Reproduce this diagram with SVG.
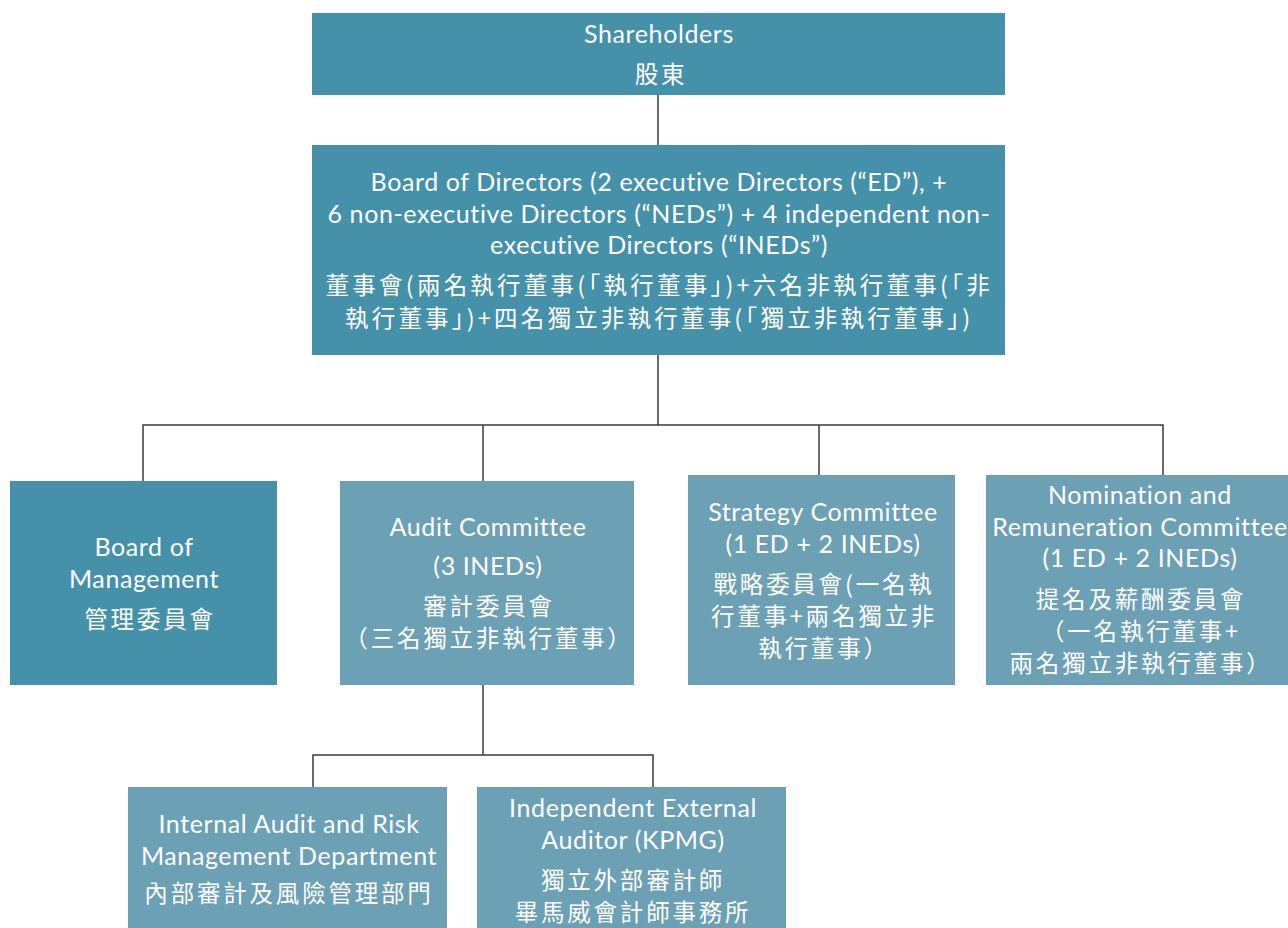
<svg xmlns="http://www.w3.org/2000/svg" width="1288" height="928" viewBox="0 0 1288 928">
<style>
.dark{fill:#4591a9}
.light{fill:#6ba0b5}
.t{font-family:Lato,"Liberation Sans","Noto Sans CJK TC",sans-serif;font-size:25px;letter-spacing:0.6px;fill:#ffffff;text-anchor:middle}
.c{font-family:"Noto Sans CJK TC","Noto Sans CJK SC",sans-serif;font-size:23.5px;letter-spacing:2.8px;fill:#ffffff;text-anchor:middle}
.ln{stroke:#3a3a3a;stroke-width:1.5;fill:none}
</style>
<rect width="1288" height="928" fill="#ffffff"/>
<g id="connectors">
<path class="ln" d="M658 95V145"/>
<path class="ln" d="M658 355V425"/>
<path class="ln" d="M143 481V425H1163V475"/>
<path class="ln" d="M483 425V481"/>
<path class="ln" d="M819 425V475"/>
<path class="ln" d="M483 685V755"/>
<path class="ln" d="M313 787V755H653V787"/>
</g>
<g id="shareholders">
<rect class="dark" x="312" y="13" width="693" height="82"/>
<text class="t" x="659" y="43">Shareholders</text>
<text class="c" x="661" y="83">股東</text>
</g>
<g id="board-of-directors">
<rect class="dark" x="312" y="145" width="693" height="210"/>
<text class="t" x="659" y="191">Board of Directors (2 executive Directors (“ED”), +</text>
<text class="t" x="659" y="223">6 non-executive Directors (“NEDs”) + 4 independent non-</text>
<text class="t" x="659" y="254">executive Directors (“INEDs”)</text>
<text class="c" x="659" y="294" textLength="667">董事會(兩名執行董事(「執行董事」)+六名非執行董事(「非</text>
<text class="c" x="659" y="327" textLength="628">執行董事」)+四名獨立非執行董事(「獨立非執行董事」)</text>
</g>
<g id="board-of-management">
<rect class="dark" x="10" y="481" width="267" height="204"/>
<text class="t" x="144" y="556">Board of</text>
<text class="t" x="144" y="588">Management</text>
<text class="c" x="150" y="628">管理委員會</text>
</g>
<g id="audit-committee">
<rect class="light" x="340" y="481" width="294" height="204"/>
<text class="t" x="488" y="536">Audit Committee</text>
<text class="t" x="488" y="575">(3 INEDs)</text>
<text class="c" x="489" y="615">審計委員會</text>
<text class="c" x="489" y="647">（三名獨立非執行董事）</text>
</g>
<g id="strategy-committee">
<rect class="light" x="688" y="475" width="267" height="210"/>
<text class="t" x="823" y="521">Strategy Committee</text>
<text class="t" x="823" y="553">(1 ED + 2 INEDs)</text>
<text class="c" x="824" y="593">戰略委員會(一名執</text>
<text class="c" x="824" y="625">行董事+兩名獨立非</text>
<text class="c" x="824" y="657">執行董事）</text>
</g>
<g id="nomination-committee">
<rect class="light" x="986" y="475" width="306" height="210"/>
<text class="t" x="1140" y="504">Nomination and</text>
<text class="t" x="1140" y="536">Remuneration Committee</text>
<text class="t" x="1140" y="567">(1 ED + 2 INEDs)</text>
<text class="c" x="1141" y="608">提名及薪酬委員會</text>
<text class="c" x="1141" y="640">（一名執行董事+</text>
<text class="c" x="1141" y="672">兩名獨立非執行董事）</text>
</g>
<g id="internal-audit">
<rect class="light" x="128" y="787" width="319" height="141"/>
<text class="t" x="289" y="833">Internal Audit and Risk</text>
<text class="t" x="289" y="865">Management Department</text>
<text class="c" x="289" y="902">內部審計及風險管理部門</text>
</g>
<g id="external-auditor">
<rect class="light" x="477" y="787" width="309" height="141"/>
<text class="t" x="633" y="817">Independent External</text>
<text class="t" x="633" y="849">Auditor (KPMG)</text>
<text class="c" x="633" y="889">獨立外部審計師</text>
<text class="c" x="633" y="921">畢馬威會計師事務所</text>
</g>
</svg>
